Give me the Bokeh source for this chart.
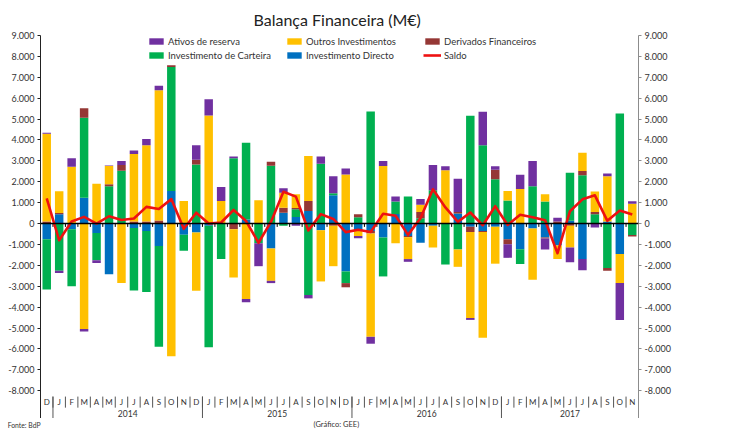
import numpy as np
from bokeh.plotting import figure
from bokeh.layouts import column
from bokeh.models import Range1d, LinearAxis, FixedTicker, Span, Legend, LegendItem, Title, ColumnDataSource
from bokeh.embed import file_html
from bokeh.resources import INLINE
from bokeh.core.properties import value

# ---------------- data (M€) ----------------
months = ["D"] + ["J", "F", "M", "A", "M", "J", "J", "A", "S", "O", "N", "D"] * 3 + \
         ["J", "F", "M", "A", "M", "J", "J", "A", "S", "O", "N"]
year_labels = ["", "2014", "2015", "2016", "2017"]
year_counts = [1, 12, 12, 12, 11]

investimento_directo = [-750, 450, -270, 1240, -450, -2420, 0, -210, -350, -1070, 1560, -540,
                        -430, -100, 0, 0, 200, 0, -1190, 520, 320, 600, -320, 1350,
                        -2290, -350, -350, -670, 460, -600, -920, -100, 0, 480, -150, -350,
                        -150, -750, -1230, -240, -670, -1050, 130, -1700, 0, 100, -1460, 0]
investimento_carteira = [-2400, -2260, -2730, 3820, -1300, 1780, 2530, -2990, -2930, -4820, 5930, -760,
                         2830, -5820, -1690, 3130, 3670, -940, 2770, -100, 360, -3420, 2860, 100,
                         -560, 300, 5360, -1860, 590, 1300, 250, 1600, -1960, -1240, 5160, 3750,
                         2120, 1100, -710, 1780, 1050, 0, 2300, 2310, 450, -2130, 5270, -550]
derivados_financeiros = [100, 50, 0, 460, 0, 100, 270, 100, 100, 150, 90, 0,
                         220, 0, 0, -270, 0, 0, 190, 240, 70, 480, 0, -100,
                         -200, 150, -120, 0, 0, -50, 300, 0, 0, 70, -250, -50,
                         460, -240, 0, 0, -50, 100, -100, 200, 100, -130, 0, -70]
outros_investimentos = [4200, 1050, 2720, -5040, 1910, 870, -2850, 3230, 3650, 6230, -6350, 1080,
                        -2780, 5170, 1080, -2310, -3610, 1110, -1550, 720, 650, 2150, -2450, -1940,
                        2350, -240, -4950, 2750, -940, -1050, 350, -1050, 2550, -830, -4120, -5070,
                        -1770, 460, 1650, -2450, 350, -650, -1050, 880, 990, 2160, -1390, 950]
ativos_de_reserva = [50, -100, 410, -130, -140, 30, 190, 170, 300, 220, 0, 0,
                     700, 780, 670, 80, -160, -1100, -110, 210, -100, -160, 350, 810,
                     290, -110, -330, 240, 240, -130, 270, 1200, 190, 1600, -90, 1600,
                     160, -650, 690, 1210, -520, 180, -700, -530, -190, 140, -1760, 120]
saldo = [1200, -800, 100, 320, 0, 350, 170, 240, 800, 700, 1170, -250,
         520, 0, 50, 650, 120, -920, 80, 1520, 1290, -330, 450, 220,
         -410, -300, -400, 470, 370, -540, 250, 1640, 770, 80, 530, -80,
         830, -70, 420, 300, 160, -1420, 590, 1160, 1350, 130, 620, 430]

title_text = "Balança Financeira (M€)"
source_note = "Fonte: BdP"
credit_note = "(Gráfico: GEE)"

# stacking order (first = closest to the axis)
series = [
    ("Investimento Directo", investimento_directo, "#0070C0"),
    ("Investimento de Carteira", investimento_carteira, "#00B050"),
    ("Derivados Financeiros", derivados_financeiros, "#953735"),
    ("Outros Investimentos", outros_investimentos, "#FFC000"),
    ("Ativos de reserva", ativos_de_reserva, "#7030A0"),
]

FONT = "Lato"
TXT = "#333333"
n = len(months)
x = np.arange(n) + 0.5

MAIN_H, FOOT_H, W = 418, 12, 734
Y_TOP, Y_BOT = 9000, -9329
p = figure(width=W, height=MAIN_H, x_range=Range1d(0, n), y_range=Range1d(Y_BOT, Y_TOP),
           output_backend="svg", toolbar_location=None,
           x_axis_location=None, y_axis_location=None,
           min_border_left=40, min_border_right=96, min_border_top=34, min_border_bottom=0)
p.grid.visible = False
p.outline_line_color = None
p.background_fill_color = "white"

p.title = Title(text=title_text, align="left", offset=213, text_font=FONT,
                text_font_size="16px", text_font_style="normal", text_color="#222222", standoff=14)

ticks = list(range(-8000, 9001, 1000))
overrides = {t: f"{t:,}".replace(",", ".") for t in ticks}
for loc, col in (("left", "#222222"), ("right", "#8c8c8c")):
    ax = LinearAxis(ticker=FixedTicker(ticks=ticks), major_label_overrides=overrides)
    ax.major_tick_in = 0
    ax.major_tick_out = 3
    ax.minor_tick_line_color = None
    ax.major_label_standoff = 3
    ax.axis_line_color = col
    ax.major_tick_line_color = col
    ax.major_label_text_font = FONT
    ax.major_label_text_font_size = "9px"
    ax.major_label_text_color = TXT
    p.add_layout(ax, loc)

# stacked bars: positives stack upward, negatives downward
pos = np.zeros(n)
neg = np.zeros(n)
renderers = {}
for name, vals, color in series:
    v = np.array(vals, dtype=float)
    bottom = np.where(v >= 0, pos, neg)
    top = bottom + v
    pos = np.where(v >= 0, top, pos)
    neg = np.where(v < 0, top, neg)
    src = ColumnDataSource(dict(x=x, bottom=bottom, top=top))
    renderers[name] = p.vbar(x="x", bottom="bottom", top="top", width=0.68, source=src,
                             fill_color=color, line_color=None)

# zero line with category tick marks
p.add_layout(Span(location=0, dimension="width", line_color="black", line_width=1.5))
bounds = np.arange(1, n)
p.segment(x0=bounds, y0=0, x1=bounds, y1=-160, line_color="black", line_width=1)

# saldo line
r_saldo = p.line(x, saldo, line_color="#EE1111", line_width=2.6, line_join="round")

# category axis (months + years)
p.segment(x0=bounds, y0=-8280, x1=bounds, y1=-8810, line_color="#555555", line_width=1)
year_starts = np.cumsum([0] + year_counts[:-1])
year_bounds = year_starts[1:]
p.segment(x0=year_bounds, y0=-8280, x1=year_bounds, y1=Y_BOT, line_color="#555555", line_width=1)
p.text(x=x, y=-8560, text=months, text_align="center", text_baseline="middle",
       text_font=value(FONT), text_font_size="8px", text_color=TXT)
year_centers = year_starts + np.array(year_counts) / 2
p.text(x=year_centers, y=-9090, text=year_labels, text_align="center", text_baseline="middle",
       text_font=value(FONT), text_font_size="8.5px", text_color=TXT)

# legend
legend_order = ["Ativos de reserva", "Outros Investimentos", "Derivados Financeiros",
                "Investimento de Carteira", "Investimento Directo"]
items = [LegendItem(label=nm, renderers=[renderers[nm]]) for nm in legend_order]
items.append(LegendItem(label="Saldo", renderers=[r_saldo]))
leg = Legend(items=items, ncols=3, location=(107, 357), orientation="horizontal",
             glyph_width=18, glyph_height=8, label_height=12, label_width=115,
             label_standoff=3, spacing=2, padding=0, margin=0,
             label_text_font=FONT, label_text_font_size="9.5px", label_text_color=TXT,
             border_line_color=None, background_fill_alpha=0)
p.add_layout(leg)

# footer strip with the source notes (frame aligned with the main chart)
f = figure(width=W, height=FOOT_H, x_range=Range1d(0, n), y_range=Range1d(0, 1),
           output_backend="svg", toolbar_location=None,
           x_axis_location=None, y_axis_location=None,
           min_border_left=40, min_border_right=96, min_border_top=0, min_border_bottom=0)
f.grid.visible = False
f.outline_line_color = None
src_ax = LinearAxis(ticker=FixedTicker(ticks=[0.5]), major_label_overrides={0.5: source_note})
src_ax.axis_line_color = None
src_ax.major_tick_line_color = None
src_ax.minor_tick_line_color = None
src_ax.major_tick_in = 0
src_ax.major_tick_out = 0
src_ax.major_label_standoff = 0
src_ax.major_label_text_font = FONT
src_ax.major_label_text_font_size = "6.8px"
src_ax.major_label_text_color = TXT
f.add_layout(src_ax, "left")
f.text(x=[23.75], y=[0.5], text=[credit_note], text_align="center",
       text_baseline="middle", text_font=value(FONT), text_font_size="7.5px", text_color=TXT)

layout = column(p, f, spacing=0)
open("out.html", "w").write(file_html(layout, INLINE))
